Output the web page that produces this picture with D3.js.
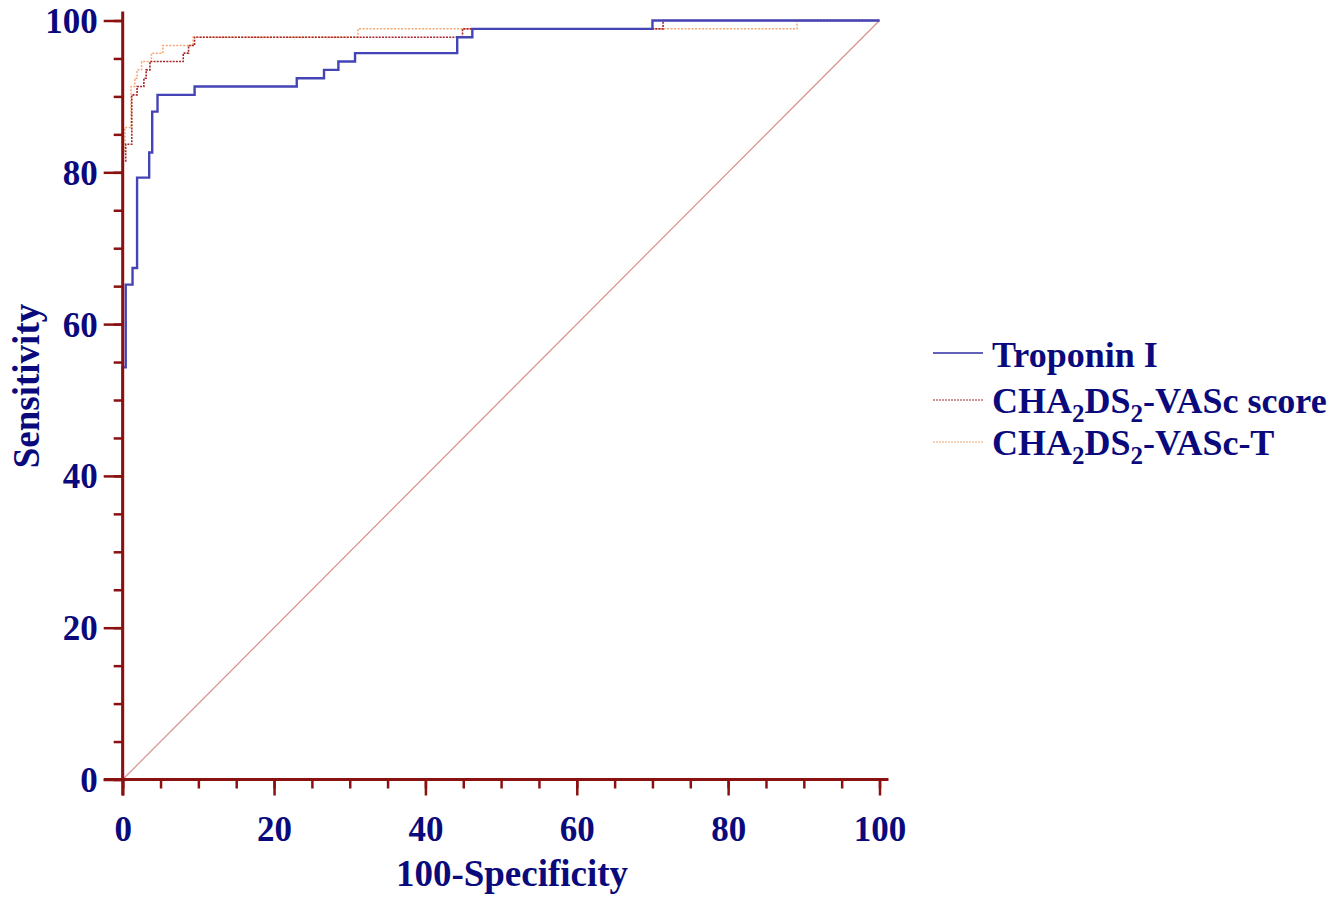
<!DOCTYPE html>
<html lang="en">
<head>
  <meta charset="UTF-8">
  <title>ROC curves</title>
  <script src="https://cdn.jsdelivr.net/npm/d3@7/dist/d3.min.js"></script>
  <style>
    html, body { margin: 0; padding: 0; background: #fff; overflow: hidden; }
    svg { display: block; }
    text { font-family: "Liberation Serif", "Times New Roman", serif; font-weight: bold; fill: #0a0a7c; }
  </style>
</head>
<body>
  <script>
    // ------------- Data (100-Specificity, Sensitivity at each step) -------------
    const tropFpr  = [0, 0, 0.4, 1.3, 1.9, 3.5, 3.9, 4.6, 9.5, 23.0, 26.6, 28.5, 30.7, 44.2, 46.2, 70.0, 100];
    const tropSens = [0, 54.3, 65.2, 67.4, 79.3, 82.6, 88.0, 90.2, 91.3, 92.4, 93.5, 94.6, 95.7, 97.8, 98.9, 100, 100];

    const vascFpr  = [0, 0, 0.4, 1.2, 1.9, 2.8, 3.1, 3.6, 8.0, 8.7, 9.5, 44.9, 71.4, 100];
    const vascSens = [0, 81.5, 83.7, 90.2, 91.3, 92.4, 93.5, 94.6, 95.7, 96.7, 97.8, 98.9, 100, 100];

    const vascTFpr  = [0, 0, 0.3, 1.1, 1.6, 1.9, 2.5, 3.8, 5.3, 9.3, 31.1, 89.1, 100];
    const vascTSens = [0, 82.6, 85.9, 91.3, 92.4, 93.5, 94.6, 95.7, 96.7, 97.8, 98.9, 100, 100];

    const majorTicks = [0, 20, 40, 60, 80, 100];
    const minorTicks = d3.range(0, 101, 5);

    // ------------- Layout -------------
    const width = 1341, height = 898;
    const plotLeft = 122.7, plotRight = 879.5, plotTop = 20.5, plotBottom = 779.5;
    const axisColor = "#8b1111";
    const textColor = "#0a0a7c";

    const svg = d3.select("body").append("svg")
      .attr("width", width)
      .attr("height", height);

    const x = d3.scaleLinear().domain([0, 100]).range([plotLeft, plotRight]);
    const y = d3.scaleLinear().domain([0, 100]).range([plotBottom, plotTop]);

    // ------------- Diagonal reference line -------------
    svg.append("line")
      .attr("x1", x(0)).attr("y1", y(0))
      .attr("x2", x(100)).attr("y2", y(100))
      .attr("stroke", "#d9908c")
      .attr("stroke-width", 1.2);

    // ------------- ROC curves -------------
    const line = d3.line()
      .x(d => x(d[0]))
      .y(d => y(d[1]))
      .curve(d3.curveStepAfter);

    const series = [
      { name: "vascT", fpr: vascTFpr, sens: vascTSens, color: "#f4a772", width: 1.5, dash: "2,1.5" },
      { name: "vasc",  fpr: vascFpr,  sens: vascSens,  color: "#a8262a", width: 1.6, dash: "2,1.2" },
      { name: "trop",  fpr: tropFpr,  sens: tropSens,  color: "#4444b6", width: 2.4, dash: null }
    ];

    series.forEach(s => {
      svg.append("path")
        .datum(d3.zip(s.fpr, s.sens))
        .attr("fill", "none")
        .attr("stroke", s.color)
        .attr("stroke-width", s.width)
        .attr("stroke-dasharray", s.dash)
        .attr("d", line);
    });

    // ------------- Axes (drawn over the curves) -------------
    function styleAxis(g) {
      g.select(".domain").remove();
      g.selectAll(".tick line").attr("stroke", axisColor).attr("stroke-width", 2.5);
    }

    // minor ticks
    svg.append("g")
      .attr("transform", `translate(${plotLeft},0)`)
      .call(d3.axisLeft(y).tickValues(minorTicks).tickSize(9).tickFormat(""))
      .call(styleAxis);
    svg.append("g")
      .attr("transform", `translate(0,${plotBottom})`)
      .call(d3.axisBottom(x).tickValues(minorTicks).tickSize(9).tickFormat(""))
      .call(styleAxis);

    // major ticks + labels
    const yAxis = svg.append("g")
      .attr("transform", `translate(${plotLeft},0)`)
      .call(d3.axisLeft(y).tickValues(majorTicks).tickSize(19).tickPadding(6).tickFormat(d3.format("d")))
      .call(styleAxis);
    yAxis.selectAll(".tick text")
      .attr("font-size", 35)
      .attr("fill", textColor)
      .attr("font-family", "Liberation Serif, serif")
      .attr("font-weight", "bold")
      .attr("dy", "0.34em");

    const xAxis = svg.append("g")
      .attr("transform", `translate(0,${plotBottom})`)
      .call(d3.axisBottom(x).tickValues(majorTicks).tickSize(16).tickFormat(d3.format("d")))
      .call(styleAxis);
    xAxis.selectAll(".tick text")
      .attr("font-size", 35)
      .attr("fill", textColor)
      .attr("font-family", "Liberation Serif, serif")
      .attr("font-weight", "bold")
      .attr("y", 61)
      .attr("dy", 0);

    // axis lines (slightly extended beyond 100)
    svg.append("line")
      .attr("x1", plotLeft).attr("y1", plotBottom + 16)
      .attr("x2", plotLeft).attr("y2", plotTop - 9)
      .attr("stroke", axisColor).attr("stroke-width", 3);
    svg.append("line")
      .attr("x1", plotLeft - 19).attr("y1", plotBottom)
      .attr("x2", plotRight + 9).attr("y2", plotBottom)
      .attr("stroke", axisColor).attr("stroke-width", 3);

    // ------------- Axis titles -------------
    svg.append("text")
      .attr("x", 512)
      .attr("y", 886)
      .attr("text-anchor", "middle")
      .attr("font-size", 37)
      .text("100-Specificity");

    svg.append("text")
      .attr("transform", "translate(39,386) rotate(-90)")
      .attr("text-anchor", "middle")
      .attr("font-size", 37)
      .text("Sensitivity");

    // ------------- Legend -------------
    const legendRows = [
      { color: "#2e2ea0", width: 1.6, dash: null, ly: 353, ty: 367, parts: [["Troponin I", false]] },
      { color: "#a8262a", width: 1.2, dash: "2,1", ly: 400, ty: 413,
        parts: [["CHA", false], ["2", true], ["DS", false], ["2", true], ["-VASc score", false]] },
      { color: "#f4a772", width: 1.2, dash: "2,1", ly: 442, ty: 455,
        parts: [["CHA", false], ["2", true], ["DS", false], ["2", true], ["-VASc-T", false]] }
    ];

    const subShift = 9;
    const legend = svg.append("g");
    legendRows.forEach(r => {
      legend.append("line")
        .attr("x1", 933).attr("x2", 983)
        .attr("y1", r.ly).attr("y2", r.ly)
        .attr("stroke", r.color)
        .attr("stroke-width", r.width)
        .attr("stroke-dasharray", r.dash);
      const t = legend.append("text")
        .attr("x", 992)
        .attr("y", r.ty)
        .attr("font-size", 36);
      let prevSub = false;
      r.parts.forEach(([str, sub]) => {
        const shift = (sub ? subShift : 0) - (prevSub ? subShift : 0);
        t.append("tspan")
          .attr("font-size", sub ? 25 : 36)
          .attr("dy", shift)
          .text(str);
        prevSub = sub;
      });
    });
  </script>
</body>
</html>
